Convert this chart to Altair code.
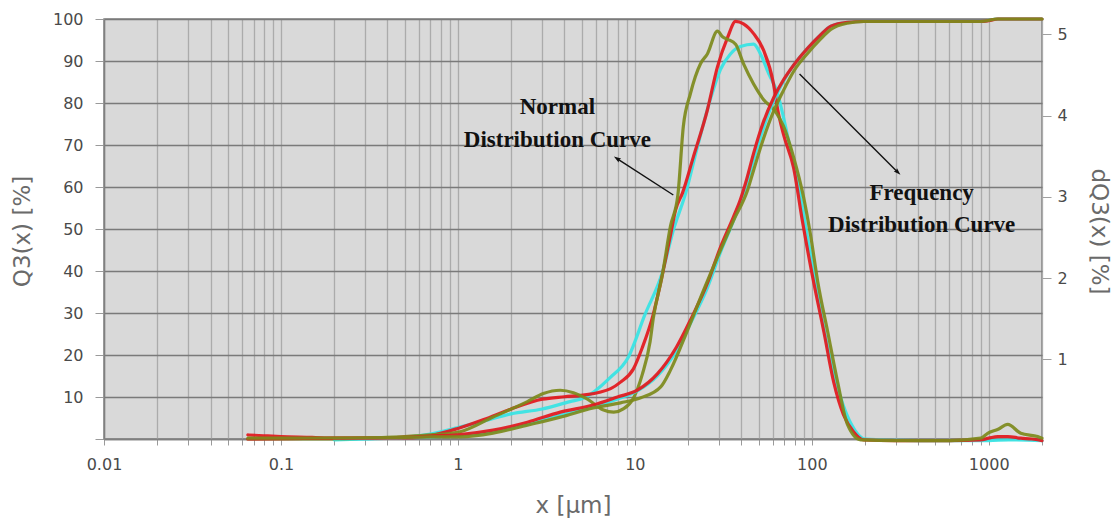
import altair as alt
import pandas as pd

# ---------------- data ----------------
# Cumulative distribution Q3(x) [%]  (left axis)
CYAN_Q3_X = [0.2, 0.3, 0.5, 0.7, 1.0, 1.58, 2.47, 3.79, 5.83, 7.98, 10.4, 13.4, 17.2, 20.6, 25.7, 30.5,
             36.1, 42.3, 46.9, 53.3, 60.8, 69.2, 78.9, 94.6, 112, 128, 159, 196, 500, 900, 1125, 2000]
CYAN_Q3_Y = [0.0, 0.1, 0.3, 0.5, 0.8, 1.8, 3.5, 5.7, 7.6, 9.5, 11.5, 15.0, 21.0, 27.5, 36.0, 44.5,
             52.0, 60.0, 66.5, 74.0, 80.5, 85.2, 89.0, 93.0, 96.2, 98.3, 99.2, 99.4, 99.4, 99.4, 100, 100]

RED_Q3_X = [0.065, 0.1, 0.3, 0.5, 0.7, 1.0, 1.58, 2.47, 3.79, 5.83, 7.98, 10.4, 13.4, 17.2, 20.6, 25.7,
            30.5, 36.1, 39.5, 42.3, 46.9, 53.3, 60.8, 69.2, 78.9, 94.6, 112, 128, 159, 196, 500, 900,
            1000, 1125, 2000]
RED_Q3_Y = [0.0, 0.1, 0.2, 0.4, 0.7, 1.0, 2.1, 4.0, 6.4, 8.1, 10.0, 11.7, 15.5, 21.9, 28.3, 37.1,
            45.7, 52.9, 57.0, 61.0, 68.0, 75.5, 81.2, 85.5, 89.0, 93.0, 96.2, 98.3, 99.2, 99.4, 99.4, 99.4,
            99.6, 100, 100]

OLIVE_Q3_X = [0.065, 0.3, 0.5, 0.7, 1.03, 1.58, 2.47, 3.79, 5.83, 8.3, 10.8, 14.0, 15.9, 19.9, 24.5,
              30.5, 36.1, 43.4, 46.9, 53.3, 60.8, 69.2, 78.9, 94.6, 112, 128, 159, 196, 500, 900, 1125, 2000]
OLIVE_Q3_Y = [0.2, 0.3, 0.4, 0.5, 0.5, 1.4, 3.3, 5.2, 7.4, 8.6, 9.8, 12.4, 16.4, 26.0, 35.5,
              45.0, 52.0, 59.3, 64.0, 71.5, 78.0, 83.0, 87.5, 91.8, 95.2, 97.5, 99.0, 99.4, 99.4, 99.4, 100, 100]

# Frequency distribution dQ3(x) [%]  (right axis)
CYAN_DQ3_X = [0.2, 0.3, 0.5, 0.7, 1.0, 1.4, 2.0, 3.0, 4.3, 5.1, 7.2, 9.2, 11.4, 14.3, 16.5, 19.4,
              22.6, 26.7, 30.5, 34.7, 39.5, 46.9, 51.3, 57, 64.1, 69.2, 75.8, 86.5, 95, 105, 118, 135,
              155, 175, 200, 400, 1000, 1300, 2000]
CYAN_DQ3_Y = [0.01, 0.02, 0.04, 0.08, 0.16, 0.24, 0.33, 0.39, 0.48, 0.52, 0.77, 1.03, 1.55, 2.07, 2.59,
              3.05, 3.62, 4.20, 4.57, 4.76, 4.85, 4.88, 4.76, 4.52, 4.27, 3.98, 3.58, 3.00, 2.48,
              1.96, 1.34, 0.78, 0.36, 0.13, 0.02, 0.0, 0.0, 0.01, 0.0]

RED_DQ3_X = [0.065, 0.08, 0.1, 0.15, 0.2, 0.3, 0.4, 0.5, 0.7, 1.0, 1.4, 2.0, 3.0, 4.0, 5.1, 7.3, 8.3,
             9.8, 11, 12.7, 14.3, 15.9, 17, 18.6, 21.4, 25.7, 29.3, 33.4, 37.1, 41.1, 46.9, 53.3, 60.8,
             64.1, 69.2, 78.9, 88.7, 101, 117, 133, 151, 172, 196, 300, 600, 900, 1000, 1125, 1280,
             1517, 1750, 2000]
RED_DQ3_Y = [0.07, 0.06, 0.05, 0.04, 0.03, 0.03, 0.03, 0.03, 0.06, 0.15, 0.26, 0.39, 0.51, 0.54, 0.56,
             0.64, 0.72, 0.88, 1.14, 1.55, 2.04, 2.53, 2.84, 3.05, 3.49, 4.07, 4.60, 4.96, 5.16, 5.13,
             5.01, 4.81, 4.39, 4.08, 3.77, 3.36, 2.69, 2.02, 1.34, 0.72, 0.32, 0.11, 0.01, 0.0, 0.0,
             0.01, 0.03, 0.05, 0.05, 0.03, 0.02, 0.0]

OLIVE_DQ3_X = [0.065, 0.1, 0.2, 0.3, 0.5, 0.7, 1.03, 1.58, 2.47, 3.04, 3.79, 4.5, 5.4, 6.6, 7.6, 8.6,
               9.8, 11, 12.2, 12.7, 14.3, 15.9, 17.5, 18.8, 20.6, 23.5, 25.7, 29.3, 31.3, 33.4, 37.1,
               41.1, 46.9, 53.3, 62.4, 69.2, 78.9, 89.8, 98.4, 108, 123, 140, 159, 189, 300, 600, 901,
               986, 1130, 1280, 1517, 1890, 2000]
OLIVE_DQ3_Y = [0.02, 0.02, 0.02, 0.03, 0.05, 0.07, 0.11, 0.29, 0.48, 0.58, 0.62, 0.59, 0.51, 0.38, 0.35,
               0.39, 0.52, 0.81, 1.22, 1.50, 2.04, 2.64, 3.02, 3.87, 4.27, 4.64, 4.76, 5.04, 4.97, 4.94,
               4.88, 4.64, 4.39, 4.20, 4.05, 3.87, 3.49, 3.00, 2.53, 1.96, 1.34, 0.72, 0.20, 0.01, 0.0,
               0.0, 0.03, 0.09, 0.14, 0.20, 0.09, 0.05, 0.03]

SERIES_COLORS = {"cyan": "#35e4e4", "red": "#e3171c", "olive": "#7d8a1c"}

# Annotations (data coordinates: x in µm, y in Q3 %)
LABEL_TEXT = ["Normal", "Distribution Curve", "Frequency", "Distribution Curve"]
LABEL_X = [3.65, 3.65, 418, 418]
LABEL_Y = [77.4, 69.5, 56.9, 49.3]
ARROW_X1 = [16.5, 85.3]
ARROW_Y1 = [58.1, 86.9]
ARROW_X2 = [7.97, 305]
ARROW_Y2 = [66.7, 63.6]
ARROW_ANGLE = [302.7, 135.0]

# ---------------- chart ----------------
FONT = "DejaVu Sans"
x_scale = alt.Scale(type="log", domain=[0.01, 2000], nice=False)
grid_vals = [round(k * 10 ** e, 6) for e in range(-2, 4) for k in range(1, 10) if k * 10 ** e <= 2000]
label_expr = ("abs(log(datum.value)/LN10 - round(log(datum.value)/LN10)) < 0.000001 "
              "? format(datum.value, '~g') : ''")
x_axis = alt.Axis(values=grid_vals, labelExpr=label_expr, title="x [μm]", grid=True,
                  gridColor="#ababab", gridWidth=1.3, tickColor="#9a9a9a", tickSize=6,
                  domainColor="#808080", domainWidth=1.5, labelPadding=11, labelFontSize=16,
                  labelColor="#4a4a4a", titleFontSize=23, titleColor="#6a6a6a", titleFontWeight="normal",
                  titleY=66, titleBaseline="middle", labelFlush=False, labelOverlap=False)

left_scale = alt.Scale(domain=[0, 100], nice=False, zero=False)
left_axis = alt.Axis(values=list(range(0, 101, 10)), labelExpr="datum.value == 0 ? '' : datum.label",
                     title="Q3(x) [%]", orient="left", grid=True, gridColor="#7a7a7a", gridWidth=1.4,
                     tickColor="#9a9a9a", tickSize=9, labelPadding=12, labelFontSize=16,
                     labelColor="#4a4a4a", domainColor="#808080", domainWidth=1.5,
                     titleFontSize=23, titleColor="#6a6a6a", titleFontWeight="normal",
                     titleX=-82, titleY=212, titleAngle=-90, titleAlign="center", titleBaseline="middle")

right_scale = alt.Scale(domain=[0.02, 5.19], nice=False, zero=False)
right_axis = alt.Axis(values=[1, 2, 3, 4, 5], title="dQ3(x) [%]", orient="right", grid=False,
                      tickColor="#a0a0a0", tickSize=9, labelPadding=6, labelFontSize=16,
                      labelColor="#4a4a4a", domain=False,
                      titleFontSize=23, titleColor="#6a6a6a", titleFontWeight="normal",
                      titleX=56, titleY=212, titleAngle=90, titleAlign="center", titleBaseline="middle")


def line_layer(xs, ys, color, y_scale, y_axis):
    df = pd.DataFrame({"x": xs, "y": ys})
    return alt.Chart(df).mark_line(color=color, strokeWidth=3.2, opacity=0.92,
                                   interpolate="monotone", strokeCap="round", strokeJoin="round").encode(
        x=alt.X("x:Q", scale=x_scale, axis=x_axis),
        y=alt.Y("y:Q", scale=y_scale, axis=y_axis),
    )


dens_group = alt.layer(
    line_layer(CYAN_DQ3_X, CYAN_DQ3_Y, SERIES_COLORS["cyan"], right_scale, right_axis),
    line_layer(RED_DQ3_X, RED_DQ3_Y, SERIES_COLORS["red"], right_scale, right_axis),
    line_layer(OLIVE_DQ3_X, OLIVE_DQ3_Y, SERIES_COLORS["olive"], right_scale, right_axis),
)

labels_df = pd.DataFrame({"x": LABEL_X, "y": LABEL_Y, "t": LABEL_TEXT})
arrows_df = pd.DataFrame({"x": ARROW_X1, "y": ARROW_Y1, "x2": ARROW_X2, "y2": ARROW_Y2, "a": ARROW_ANGLE})

text_layer = alt.Chart(labels_df).mark_text(font="Liberation Serif", fontWeight="bold", fontSize=23,
                                            align="center", baseline="alphabetic", color="#111111").encode(
    x=alt.X("x:Q", scale=x_scale, axis=x_axis),
    y=alt.Y("y:Q", scale=left_scale, axis=left_axis),
    text="t:N",
)
rule_layer = alt.Chart(arrows_df).mark_rule(color="#111111", strokeWidth=1.4).encode(
    x=alt.X("x:Q", scale=x_scale, axis=x_axis),
    y=alt.Y("y:Q", scale=left_scale, axis=left_axis),
    x2="x2:Q",
    y2="y2:Q",
)
head_layer = alt.Chart(arrows_df).mark_point(shape="M0,-1L0.55,0.7L0,0.45L-0.55,0.7Z", filled=True,
                                             color="#111111", size=70, opacity=1).encode(
    x=alt.X("x2:Q", scale=x_scale, axis=x_axis),
    y=alt.Y("y2:Q", scale=left_scale, axis=left_axis),
    angle=alt.Angle("a:Q", scale=None),
)

cum_group = alt.layer(
    line_layer(CYAN_Q3_X, CYAN_Q3_Y, SERIES_COLORS["cyan"], left_scale, left_axis),
    line_layer(RED_Q3_X, RED_Q3_Y, SERIES_COLORS["red"], left_scale, left_axis),
    line_layer(OLIVE_Q3_X, OLIVE_Q3_Y, SERIES_COLORS["olive"], left_scale, left_axis),
    rule_layer,
    head_layer,
    text_layer,
)

chart = alt.layer(dens_group, cum_group).resolve_scale(y="independent").properties(
    width=938, height=420,
    padding={"left": 104, "top": 19, "right": 78, "bottom": 84},
    autosize=alt.AutoSizeParams(type="none"),
    background="white",
).configure_axis(
    labelFont=FONT, titleFont=FONT,
).configure_view(
    fill="#d9d9d9", stroke="#808080", strokeWidth=1.5,
)

chart.save("out.html", embed_options={"renderer": "svg", "actions": False})
